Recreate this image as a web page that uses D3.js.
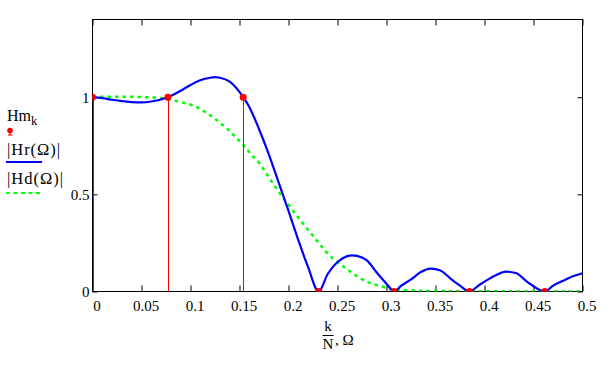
<!DOCTYPE html>
<html>
<head>
<meta charset="utf-8">
<script src="https://cdn.jsdelivr.net/npm/d3@7/dist/d3.min.js"></script>
<style>
  html, body { margin: 0; padding: 0; background: #fff; }
  svg { display: block; }
  text { font-family: "Liberation Serif", "Times New Roman", serif; fill: #000; }
</style>
</head>
<body>
<svg id="chart" width="611" height="365"></svg>
<script>
// ---- data ----
const hmOmega = [0, 0.0769, 0.1538, 0.2308, 0.3077, 0.3846, 0.4615];
const hmValue = [1, 1, 1, 0, 0, 0, 0];

const hrOmega = [0, 0.01, 0.02, 0.03, 0.04, 0.05, 0.06, 0.0769, 0.09, 0.10, 0.11, 0.12, 0.125, 0.13, 0.14, 0.1538,
  0.16, 0.17, 0.18, 0.19, 0.20, 0.21, 0.22, 0.2308,
  0.24, 0.25, 0.26, 0.265, 0.27, 0.28, 0.29, 0.30, 0.3077,
  0.315, 0.325, 0.335, 0.345, 0.355, 0.365, 0.375, 0.3846,
  0.395, 0.403, 0.412, 0.422, 0.432, 0.4436, 0.4615,
  0.47, 0.481, 0.49, 0.5];
const hrValue = [1.0, 0.995, 0.987, 0.98, 0.975, 0.973, 0.978, 1.0, 1.033, 1.063, 1.087, 1.100, 1.103, 1.100, 1.08, 1.0,
  0.95, 0.835, 0.705, 0.56, 0.415, 0.265, 0.125, 0,
  0.09, 0.152, 0.182, 0.186, 0.183, 0.16, 0.098, 0.04, 0,
  0.03, 0.062, 0.1, 0.118, 0.108, 0.068, 0.03, 0,
  0.035, 0.06, 0.085, 0.102, 0.095, 0.05, 0,
  0.03, 0.057, 0.078, 0.094];

const hdOmega = [0, 0.02, 0.04, 0.06, 0.068, 0.078, 0.092, 0.102, 0.109, 0.117, 0.124, 0.132, 0.140, 0.148, 0.156,
  0.163, 0.170, 0.1755, 0.181, 0.1867, 0.1925, 0.1993, 0.2054, 0.2115, 0.2177, 0.2245, 0.231, 0.2378,
  0.2463, 0.2548, 0.2626, 0.2707, 0.2776, 0.2857, 0.294, 0.3014, 0.309, 0.33, 0.36, 0.40, 0.45, 0.5];
const hdValue = [1.003, 1.003, 1.002, 0.999, 0.997, 0.99, 0.972, 0.958, 0.942, 0.917, 0.893, 0.861, 0.826, 0.785, 0.742,
  0.70, 0.662, 0.622, 0.58, 0.538, 0.495, 0.452, 0.41, 0.371, 0.332, 0.29, 0.249, 0.208,
  0.166, 0.133, 0.104, 0.077, 0.055, 0.04, 0.027, 0.017, 0.01, 0.005, 0.002, 0.001, 0.0005, 0];

const xTicks = [0, 0.05, 0.1, 0.15, 0.2, 0.25, 0.3, 0.35, 0.4, 0.45, 0.5];
const xTickLabels = ["0", "0.05", "0.1", "0.15", "0.2", "0.25", "0.3", "0.35", "0.4", "0.45", "0.5"];
const yTicks = [0, 0.5, 1];
const yTickLabels = ["0", "0.5", "1"];

// ---- layout ----
const svg = d3.select("#chart");
const L = 92.5, R = 582.5, T = 19.5, B = 291.5;
const x = d3.scaleLinear().domain([0, 0.5]).range([L, R]);
const y = d3.scaleLinear().domain([0, 1.4]).range([B, T]);

svg.append("defs").append("clipPath").attr("id", "plotclip")
  .append("rect").attr("x", L).attr("y", T).attr("width", R - L).attr("height", B - T);

// axes (ticks inside on all sides)
const fmtX = d => xTickLabels[xTicks.indexOf(d)];
const fmtY = d => yTickLabels[yTicks.indexOf(d)];

const gB = svg.append("g").attr("transform", `translate(0,${B})`)
  .call(d3.axisBottom(x).tickValues(xTicks).tickFormat(fmtX).tickSizeInner(-6).tickSizeOuter(0).tickPadding(9));
gB.selectAll("text").attr("dx", 4).style("font-size", "15px");

svg.append("g").attr("transform", `translate(0,${T})`)
  .call(d3.axisTop(x).tickValues(xTicks).tickFormat("").tickSizeInner(-6).tickSizeOuter(0));

const gL = svg.append("g").attr("transform", `translate(${L},0)`)
  .call(d3.axisLeft(y).tickValues(yTicks).tickFormat(fmtY).tickSizeInner(-5).tickSizeOuter(0).tickPadding(3));
gL.selectAll("text").style("font-size", "15px").attr("dy", "0.34em");

svg.append("g").attr("transform", `translate(${R},0)`)
  .call(d3.axisRight(y).tickValues(yTicks).tickFormat("").tickSizeInner(-5).tickSizeOuter(0));

svg.selectAll(".domain").remove();
svg.selectAll(".tick line").attr("stroke", "#000").attr("stroke-width", 1);
svg.selectAll(".tick text").attr("fill", "#000").style("font-family", "'Liberation Serif', serif");

// frame
svg.append("rect").attr("x", L).attr("y", T).attr("width", R - L).attr("height", B - T)
  .attr("fill", "none").attr("stroke", "#000").attr("stroke-width", 1);

const plot = svg.append("g").attr("clip-path", "url(#plotclip)");

// Hd (green dotted)
const hd = hdOmega.map((o, i) => [o, hdValue[i]]);
plot.append("path").datum(hd)
  .attr("fill", "none").attr("stroke", "#00ff00").attr("stroke-width", 2.5)
  .attr("stroke-dasharray", "3.5,4")
  .attr("d", d3.line().x(d => x(d[0])).y(d => y(d[1])).curve(d3.curveMonotoneX));

// Hm stems
const hm = hmOmega.map((o, i) => [o, hmValue[i]]);
svg.append("g").selectAll("line").data(hm).join("line")
  .attr("x1", d => Math.round(x(d[0])) + 0.5).attr("x2", d => Math.round(x(d[0])) + 0.5)
  .attr("y1", y(0)).attr("y2", d => y(d[1]))
  .attr("stroke", "#ff0000").attr("stroke-width", 1);

// Hr (blue)
const hr = hrOmega.map((o, i) => [o, hrValue[i]]);
plot.append("path").datum(hr)
  .attr("fill", "none").attr("stroke", "#0000ff").attr("stroke-width", 2.2)
  .attr("d", d3.line().x(d => x(d[0])).y(d => y(d[1])).curve(d3.curveMonotoneX));

// Hm dots
plot.append("g").selectAll("circle").data(hm).join("circle")
  .attr("cx", d => x(d[0])).attr("cy", d => y(d[1])).attr("r", 3.5)
  .attr("fill", "#ff0000");

// legend
const leg = svg.append("g");
const hmText = leg.append("text").attr("x", 7).attr("y", 121).style("font-size", "16px");
hmText.append("tspan").text("Hm");
hmText.append("tspan").attr("dy", 4).style("font-size", "12.5px").text("k");
leg.append("circle").attr("cx", 10).attr("cy", 130.5).attr("r", 2.8).attr("fill", "#ff0000");
leg.append("line").attr("x1", 10).attr("x2", 10).attr("y1", 131).attr("y2", 135.5).attr("stroke", "#ff0000").attr("stroke-width", 1.2);
leg.append("line").attr("x1", 8).attr("x2", 12.5).attr("y1", 135).attr("y2", 135).attr("stroke", "#ff0000").attr("stroke-width", 1);

leg.append("text").attr("x", 7).attr("y", 155).style("font-size", "16.5px")
  .attr("textLength", 53).attr("lengthAdjust", "spacing").text("|Hr(Ω)|");
leg.append("line").attr("x1", 6).attr("x2", 42).attr("y1", 162).attr("y2", 162)
  .attr("stroke", "#0000ff").attr("stroke-width", 2);

leg.append("text").attr("x", 7).attr("y", 184).style("font-size", "16.5px")
  .attr("textLength", 56).attr("lengthAdjust", "spacing").text("|Hd(Ω)|");
leg.append("line").attr("x1", 6).attr("x2", 42).attr("y1", 193).attr("y2", 193)
  .attr("stroke", "#00ff00").attr("stroke-width", 2).attr("stroke-dasharray", "4,3.5");

// x-axis label: k/N, Ω
const xl = svg.append("g");
xl.append("text").attr("x", 328).attr("y", 331).attr("text-anchor", "middle").style("font-size", "15px").text("k");
xl.append("line").attr("x1", 322.5).attr("x2", 333.5).attr("y1", 335.5).attr("y2", 335.5).attr("stroke", "#000").attr("stroke-width", 1);
xl.append("text").attr("x", 328).attr("y", 349).attr("text-anchor", "middle").style("font-size", "15px").text("N");
xl.append("text").attr("x", 335).attr("y", 345).style("font-size", "15px").text(", Ω");
</script>
</body>
</html>
